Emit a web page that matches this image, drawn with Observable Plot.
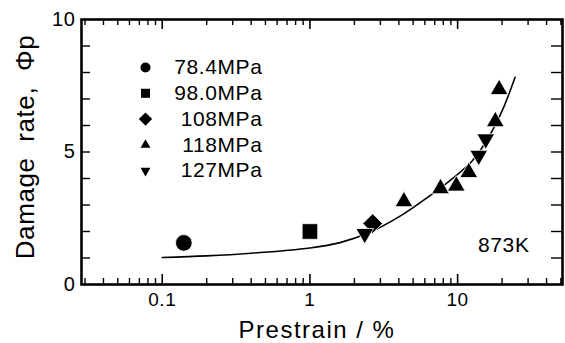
<!DOCTYPE html>
<html><head><meta charset="utf-8">
<script src="https://cdn.jsdelivr.net/npm/d3@7"></script>
<script src="https://cdn.jsdelivr.net/npm/@observablehq/plot@0.6"></script>
<style>body{margin:0;background:#fff}</style>
</head><body><div id="chart"></div>
<script>
// ---- data ----
const series = ["78.4MPa", "98.0MPa", "108MPa", "118MPa", "127MPa"];
const seriesSymbol = ["circle", "square", "square", "triangle", "triangle"];
const seriesRotate = [0, 0, 45, 0, 180];
const prestrain = [0.14, 1.0, 2.66, 2.35, 4.33, 7.66, 9.8, 11.9, 13.9, 15.5, 18.0, 19.1];
const damage    = [1.57, 2.0, 2.3, 1.92, 3.13, 3.62, 3.72, 4.23, 4.87, 5.49, 6.15, 7.36];
const stress    = ["78.4MPa", "98.0MPa", "108MPa", "127MPa", "118MPa", "118MPa", "118MPa", "118MPa", "127MPa", "127MPa", "118MPa", "118MPa"];
const fitX = [0.1, 0.2, 0.4, 1, 1.6, 2.5, 4, 6.3, 9, 12.5, 16, 20, 24.5];
const fitY = [1.02, 1.08, 1.18, 1.38, 1.58, 1.95, 2.55, 3.3, 3.95, 4.65, 5.5, 6.55, 7.82];
const xMajor = [0.1, 1, 10];
const xMinor = [0.03, 0.04, 0.05, 0.06, 0.07, 0.08, 0.09, 0.2, 0.3, 0.4, 0.5, 0.6, 0.7, 0.8, 0.9,
                2, 3, 4, 5, 6, 7, 8, 9, 20, 30, 40, 50];
const yLabels = [0, 5, 10];
const yMinor = [1, 2, 3, 4, 5, 6, 7, 8, 9];
const temperature = "873K";
const xTitle = "Prestrain / %";
const yTitle = "Damage\u00a0 rate,\u00a0 \u03a6p";

// ---- layout ----
const W = 565, H = 343, mL = 81, mR = 3, mT = 19, mB = 59;
const iw = W - mL - mR, ih = H - mT - mB;
const dataR = [8.3, 8.8, 7.9, 6.6, 6.6];
const legendR = [5, 5.1, 5.3, 3.7, 3.7];

const points = prestrain.map((x, i) => ({x, y: damage[i], s: stress[i]}));
const fit = fitX.map((x, i) => ({x, y: fitY[i]}));
const idx = s => series.indexOf(s);

const legendMarks = series.flatMap((s, i) => [
  Plot.dot([s], {frameAnchor: "top-left", dx: 64, dy: 48 + i * 25.8, symbol: d => d,
    r: legendR[i], rotate: seriesRotate[i], fill: "black", stroke: "none"}),
  Plot.text([s], {frameAnchor: "top-left", dx: 181, dy: 48 + i * 25.8, text: d => d,
    textAnchor: "end", lineAnchor: "middle", fontSize: 21, fill: "black"})
]);

const chart = Plot.plot({
  width: W, height: H,
  marginLeft: mL, marginRight: mR, marginTop: mT, marginBottom: mB,
  x: {type: "log", domain: [0.0284, 51.3]},
  y: {domain: [0, 10]},
  symbol: {domain: series, range: seriesSymbol},
  r: {type: "identity"},
  style: {fontFamily: "'Liberation Sans', Arial, sans-serif", background: "white", color: "black", letterSpacing: "0.6px"},
  marks: [
    // inward ticks
    Plot.tickX(xMinor, {x: d => d, insetTop: ih - 6, strokeWidth: 1.4}),
    Plot.tickX(xMinor, {x: d => d, insetBottom: ih - 6, strokeWidth: 1.4}),
    Plot.tickX(xMajor, {x: d => d, insetTop: ih - 10, strokeWidth: 1.6}),
    Plot.tickX(xMajor, {x: d => d, insetBottom: ih - 10, strokeWidth: 1.6}),
    Plot.tickY(yMinor, {y: d => d, insetRight: iw - 9, strokeWidth: 1.4}),
    Plot.tickY(yMinor, {y: d => d, insetLeft: iw - 11, strokeWidth: 1.4}),
    Plot.axisX(xMajor, {tickSize: 0, tickPadding: 8, fontSize: 19, label: null, tickFormat: d => String(d)}),
    Plot.axisY(yLabels, {tickSize: 0, tickPadding: 6, fontSize: 20, label: null, tickFormat: d => String(d)}),
    Plot.frame({strokeWidth: 2.6}),
    Plot.line(fit, {x: "x", y: "y", curve: "catmull-rom", strokeWidth: 1.6, stroke: "black"}),
    Plot.dot(points, {x: "x", y: "y", symbol: "s", r: d => dataR[idx(d.s)], rotate: d => seriesRotate[idx(d.s)],
      fill: "black", stroke: "white", strokeWidth: 0.8}),
    ...legendMarks,
    Plot.text([temperature], {frameAnchor: "bottom-right", dx: -33, dy: -39, text: d => d,
      textAnchor: "end", lineAnchor: "middle", fontSize: 21, fill: "black"}),
    Plot.text([xTitle], {frameAnchor: "bottom", dx: -5, dy: 46, text: d => d,
      textAnchor: "middle", lineAnchor: "middle", fontSize: 24, fill: "black"}),
    Plot.text([yTitle], {frameAnchor: "left", dx: -56, dy: -5, text: d => d, rotate: -90,
      textAnchor: "middle", lineAnchor: "middle", fontSize: 26, fill: "black"})
  ]
});
d3.select(chart).selectAll("text").filter(function() { return this.textContent === xTitle; })
  .style("letter-spacing", "1.5px");
document.getElementById("chart").appendChild(chart);
</script>
</body></html>
